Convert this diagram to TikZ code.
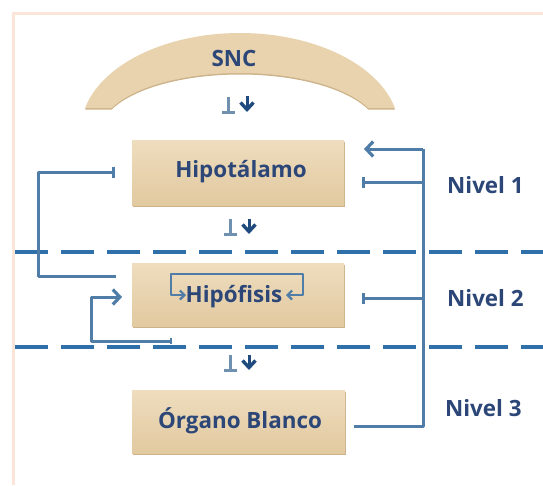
\documentclass[tikz,border=0pt]{standalone}
\usepackage{fontspec}
\setmainfont{Open Sans}
\usetikzlibrary{arrows.meta}
\definecolor{peach}{HTML}{FBE4D8}
\definecolor{boxfill}{HTML}{E8D3AE}
\definecolor{boxtop}{HTML}{EEDDBE}
\definecolor{boxbot}{HTML}{E2C9A0}
\definecolor{boxshadow}{HTML}{CDB38A}
\definecolor{conn}{HTML}{4F7DA8}
\definecolor{dash}{HTML}{2F6FAA}
\definecolor{txt}{HTML}{2B4677}
\definecolor{navy}{HTML}{1F4A7E}
\definecolor{inhgray}{HTML}{6F90AE}
\tikzset{
  boxnode/.style={rectangle, top color=boxtop, bottom color=boxbot, draw=none, inner sep=0pt},
  lbl/.style={font=\bfseries\fontsize{22.4}{26}\selectfont, text=txt, inner sep=0pt},
  lvl/.style={font=\bfseries\fontsize{22.4}{26}\selectfont, text=txt, inner sep=0pt, anchor=west},
  connline/.style={draw=conn, line width=3pt},
  inhib/.style={connline, -{Bar[width=11pt,line width=3pt]}},
  fbarrow/.style={connline, -{Straight Barb[length=7pt,width=15pt,line width=3.2pt]}, }, 
  levdash/.style={draw=dash, line width=3.5pt, dash pattern=on 33pt off 13pt},
  smallinh/.style={draw=inhgray, line width=3pt, -{Bar[width=13pt,line width=3pt]}},
  smallarr/.style={draw=navy, line width=3pt, -{Straight Barb[length=7pt,width=13pt,line width=3.4pt]}},
  brk/.style={draw=conn, line width=1.8pt, {Straight Barb[length=4.5pt,width=9pt,line width=2.2pt]}-{Straight Barb[length=4.5pt,width=9pt,line width=2.2pt]}}
}
\begin{document}
\begin{tikzpicture}[x=1pt,y=-1pt]
\useasboundingbox (0,0) rectangle (543,485);
\fill[white] (0,0) rectangle (543,485);
% frame
\draw[peach, line width=3pt] (13,485) -- (13,13) -- (543,13);
% SNC arc
\fill[boxshadow] plot[domain=193.1:346.9,samples=80] ({240+159*cos(\x)},{131.5+97*sin(\x)}) -- plot[domain=337.3:202.7,samples=80] ({240+139*cos(\x)},{131.5+57*sin(\x)}) -- cycle;
\fill[boxfill] plot[domain=193.1:346.9,samples=80] ({240+159*cos(\x)},{130+97*sin(\x)}) -- plot[domain=337.3:202.7,samples=80] ({240+139*cos(\x)},{130+57*sin(\x)}) -- cycle;
\node[lbl] (snc) at (234,58) {SNC};
% boxes
\fill[boxshadow] (133,142) rectangle (345,207);
\node[boxnode, minimum width=212pt, minimum height=65pt] (hipo) at (238,172.5) {};
\node[lbl] (hipoT) at (241,172) {Hipotálamo};
\fill[boxshadow] (133,265) rectangle (345,328);
\node[boxnode, minimum width=212pt, minimum height=63pt] (hipof) at (238,294.5) {};
\node[lbl] (hipofT) at (234,297) {Hipófisis};
\fill[boxshadow] (133,392) rectangle (346,455);
\node[boxnode, minimum width=213pt, minimum height=63pt] (org) at (238.5,421.5) {};
\node[lbl] (orgT) at (240,421) {Órgano Blanco};
% level labels
\node[lvl] (n1) at (447,185) {Nivel 1};
\node[lvl] (n2) at (447,298) {Nivel 2};
\node[lvl] (n3) at (445,408) {Nivel 3};
% dashed level separators
\draw[levdash] (15,252) -- (543,252);
\draw[levdash] (15,347) -- (543,347);
% small inhibit / stimulate marks
\coordinate (s1a) at (228,97); \coordinate (s1b) at (228,114);
\coordinate (s1c) at (247,96); \coordinate (s1d) at (247,112);
\draw[smallinh] (s1a) -- (s1b);
\draw[smallarr] (s1c) -- (s1d);
\coordinate (s2a) at (230,219); \coordinate (s2b) at (230,236);
\coordinate (s2c) at (249,219); \coordinate (s2d) at (249,234);
\draw[smallinh] (s2a) -- (s2b);
\draw[smallarr] (s2c) -- (s2d);
\coordinate (s3a) at (230,355); \coordinate (s3b) at (230,372);
\coordinate (s3c) at (249,355); \coordinate (s3d) at (249,370);
\draw[smallinh] (s3a) -- (s3b);
\draw[smallarr] (s3c) -- (s3d);
% right feedback loop
\coordinate (rv) at (423,149);
\coordinate (hipoArr) at (364,149);
\coordinate (hipoInh) at (362,182);
\coordinate (hipofInh) at (362,298);
\coordinate (orgOut) at (354,426);
\draw[connline, line join=round] (orgOut) -| (rv);
\draw[fbarrow] (rv) -- (hipoArr);
\draw[inhib] (rv |- hipoInh) -- (hipoInh);
\draw[inhib] (rv |- hipofInh) -- (hipofInh);
% left long loop
\coordinate (lstart) at (116,276);
\coordinate (lend) at (115,172);
\draw[inhib, line join=round] (lstart) -- (38,276) -- (38,172) -- (lend);
% short loop
\coordinate (sstart) at (172,341);
\coordinate (send) at (122,297);
\draw[connline, {Bar[width=6pt,line width=2pt]}-{Straight Barb[length=7pt,width=15pt,line width=3.2pt]}, line join=round] (sstart) -- (91,341) -- (91,297) -- (send);
% ultra-short loop inside pituitary
\coordinate (uL) at (186,295);
\coordinate (uR) at (286,295);
\draw[brk, line join=round] (uL) -- (171,295) -- (171,274) -- (303,274) -- (303,295) -- (uR);
\end{tikzpicture}
\end{document}
